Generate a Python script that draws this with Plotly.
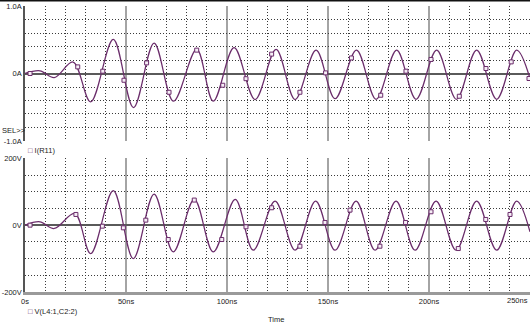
import plotly.graph_objects as go

# ---- data (time in ns) ----
t_i = [0, 7.4, 14.5, 23.8, 32.5, 43.7, 53.7, 63.9, 73.5, 85.0, 93.2, 103.5, 113.9, 124.3, 133.7,
       144.1, 153.5, 164.1, 173.8, 184.0, 193.6, 203.8, 213.6, 223.6, 233.5, 243.4, 250]
i_vals = [0, 0.04, -0.06, 0.17, -0.42, 0.505, -0.505, 0.45, -0.41, 0.357, -0.41, 0.383, -0.386, 0.357, -0.386,
          0.346, -0.374, 0.346, -0.382, 0.346, -0.382, 0.346, -0.382, 0.346, -0.382, 0.346, -0.074]

t_i_mk = [2.5, 26.1, 38.5, 49.0, 60.2, 71.3, 85.0, 97.9, 109.4, 122.1, 136.1, 148.8, 161.6, 176.1,
          188.6, 201.0, 215.0, 228.2, 240.7, 249.5]
i_mk = [0, 0.098, 0.034, -0.10, 0.157, -0.278, 0.346, -0.174, -0.077, 0.287, -0.278, 0.009, 0.23, -0.322,
        0.034, 0.208, -0.337, 0.074, 0.172, -0.074]

t_v = [0, 7.4, 14.5, 24.6, 32.5, 43.7, 53.6, 63.9, 73.4, 83.8, 93.2, 104.1, 113.0, 123.8, 133.7,
       143.9, 153.5, 163.9, 173.3, 183.7, 193.1, 203.5, 213.4, 223.6, 233.5, 243.4, 250]
v_vals = [0, 10, -10, 35, -85, 103, -100, 93, -80, 77, -80, 77, -75, 72, -75,
          72, -75, 72, -75, 72, -75, 72, -75, 72, -75, 72, -20]

t_v_mk = [2.5, 25.2, 38.3, 48.7, 59.8, 70.9, 83.8, 97.4, 109.4, 122.1, 136.1, 148.5, 160.9, 175.7,
          188.4, 201.0, 214.5, 228.1, 240.1]
v_mk = [0, 32, -3, -8, 15, -43, 75, -43, -5, 52, -63, 8, 45, -63, 8, 40, -70, 17, 32]

x_ticks = [0, 50, 100, 150, 200, 250]
x_labels = ["0s", "50ns", "100ns", "150ns", "200ns", ""]
i_ticks = [-1.0, -0.8, -0.6, -0.4, -0.2, 0.0, 0.2, 0.4, 0.6, 0.8, 1.0]
i_labels = ["-1.0A", "", "", "", "", "0A", "", "", "", "", "1.0A"]
v_ticks = [-200, -150, -100, -50, 0, 50, 100, 150, 200]
v_labels = ["-200V", "", "", "", "0V", "", "", "", "200V"]

LINE = "#6b2d6b"
DOT = "#3a3a3a"
FONT = dict(family="Liberation Sans, Arial, sans-serif", size=7.5, color="#222222")

fig = go.Figure()
fig.add_trace(go.Scatter(x=t_i, y=i_vals, mode="lines", xaxis="x", yaxis="y",
                         line=dict(color=LINE, width=1.25, shape="spline", smoothing=1)))
fig.add_trace(go.Scatter(x=t_i_mk, y=i_mk, mode="markers", xaxis="x", yaxis="y",
                         marker=dict(symbol="square", size=4, color="#f6eef6",
                                     line=dict(color=LINE, width=1))))
fig.add_trace(go.Scatter(x=t_v, y=v_vals, mode="lines", xaxis="x2", yaxis="y2",
                         line=dict(color=LINE, width=1.25, shape="spline", smoothing=1)))
fig.add_trace(go.Scatter(x=t_v_mk, y=v_mk, mode="markers", xaxis="x2", yaxis="y2",
                         marker=dict(symbol="square", size=4, color="#f6eef6",
                                     line=dict(color=LINE, width=1))))

xcommon = dict(range=[0, 250], tickvals=x_ticks, ticktext=x_labels, showgrid=True,
               gridcolor="#a4a4a4", gridwidth=2, zeroline=False, ticks="",
               minor=dict(tickmode="linear", tick0=0, dtick=10, showgrid=True,
                          gridcolor=DOT, griddash="1px,2px", gridwidth=1),
               tickfont=FONT, automargin=False, fixedrange=True)

fig.update_layout(
    width=530, height=327,
    margin=dict(l=25, r=0, t=6, b=35),
    paper_bgcolor="white", plot_bgcolor="white",
    showlegend=False,
    font=FONT,
    xaxis=dict(domain=[0, 1], anchor="y", showticklabels=False, showline=False, **xcommon),
    xaxis2=dict(domain=[0, 1], anchor="y2", showticklabels=True, showline=True,
                linecolor="#9a9a9a", linewidth=3, **xcommon),
    yaxis=dict(domain=[0.528, 1], anchor="x", range=[-1, 1], tickvals=i_ticks, ticktext=i_labels,
               showgrid=True, gridcolor=DOT, griddash="1px,2px", gridwidth=1,
               zeroline=True, zerolinecolor="#5a5a5a", zerolinewidth=1.5,
               showline=True, linecolor="#555555", linewidth=1.5, ticks="",
               tickfont=FONT, automargin=False, fixedrange=True),
    yaxis2=dict(domain=[0, 0.4675], anchor="x2", range=[-200, 200], tickvals=v_ticks, ticktext=v_labels,
                showgrid=True, gridcolor=DOT, griddash="1px,2px", gridwidth=1,
                zeroline=True, zerolinecolor="#5a5a5a", zerolinewidth=1.5,
                showline=True, linecolor="#555555", linewidth=1.5, ticks="",
                tickfont=FONT, automargin=False, fixedrange=True),
)

H = 286.0
W = 505.0
def px(xp):
    return (xp - 25) / W
def py(yp):
    return 1 - (yp - 6) / H

fig.add_annotation(text="SEL&gt;&gt;", xref="paper", yref="paper", x=px(0), y=py(130),
                   xanchor="left", yanchor="middle", showarrow=False, font=FONT)
fig.add_annotation(text="<span style='color:%s'>□</span> I(R11)" % LINE, xref="paper", yref="paper",
                   x=px(26), y=py(150), xanchor="left", yanchor="middle", showarrow=False, font=FONT)
fig.add_annotation(text="<span style='color:%s'>□</span> V(L4:1,C2:2)" % LINE, xref="paper", yref="paper",
                   x=px(26), y=py(311), xanchor="left", yanchor="middle", showarrow=False, font=FONT)
fig.add_annotation(text="Time", xref="paper", yref="paper", x=px(276), y=py(319),
                   xanchor="center", yanchor="middle", showarrow=False, font=FONT)
fig.add_annotation(text="250ns", xref="x2", yref="paper", x=250, y=py(300),
                   xanchor="right", yanchor="middle", showarrow=False, font=FONT)
fig.add_shape(type="line", xref="paper", yref="paper", x0=px(0), x1=1, y0=py(0.5), y1=py(0.5),
              line=dict(color="#111111", width=2))

fig.write_html("out.html")
